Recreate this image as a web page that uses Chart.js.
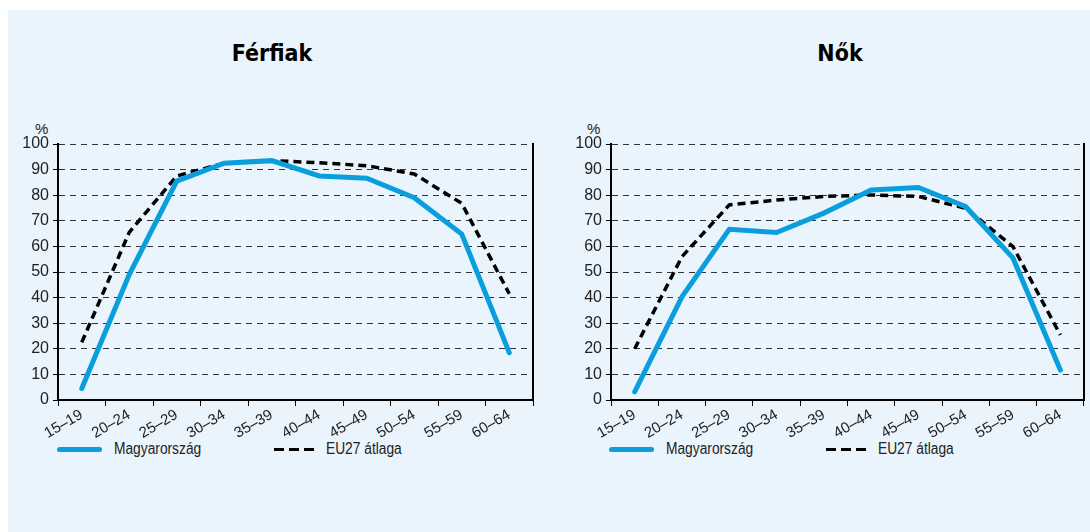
<!DOCTYPE html>
<html>
<head>
<meta charset="utf-8">
<script src="https://cdn.jsdelivr.net/npm/chart.js@4.4.1/dist/chart.umd.min.js"></script>
<style>
  html, body { margin: 0; padding: 0; background: #ffffff; }
  #page { position: absolute; left: 8px; top: 10px; width: 1082px; height: 522px; background: #eaf4fc; }
  .box { position: absolute; }
  .title { position: absolute; font-family: "Liberation Sans Narrow", "DejaVu Sans Condensed", "Liberation Sans", sans-serif;
           font-stretch: condensed; font-weight: bold; font-size: 23px; color: #000; text-align: center; width: 200px; }
  .pct { position: absolute; font-family: "Liberation Sans", Arial, sans-serif; font-size: 15px; color: #222; }
  .leg { position: absolute; font-family: "Liberation Sans", Arial, sans-serif;
         font-size: 16px; color: #222; line-height: 18px; transform: scaleX(0.86); transform-origin: left center; }
  .solid { position: absolute; height: 5px; background: #0a9fdc; border-radius: 3px; }
  .dash { position: absolute; height: 3px; width: 10px; background: #000; }
</style>
</head>
<body>
<div id="page"></div>

<div class="title" style="left:172px; top:40px;">Férfiak</div>
<div class="title" style="left:740px; top:40px;">Nők</div>

<div class="pct" style="left:35px; top:120px;">%</div>
<div class="pct" style="left:587px; top:120px;">%</div>

<div class="box" style="left:0px; top:120px; width:545px; height:320px;"><canvas id="men"></canvas></div>
<div class="box" style="left:545px; top:120px; width:545px; height:320px;"><canvas id="women"></canvas></div>

<!-- legends -->
<div class="solid" style="left:57px; top:447px; width:45px;"></div>
<div class="leg" style="left:114px; top:440px;">Magyarország</div>
<div class="dash" style="left:274px; top:448px;"></div>
<div class="dash" style="left:289px; top:448px;"></div>
<div class="dash" style="left:304px; top:448px;"></div>
<div class="leg" style="left:326px; top:440px;">EU27 átlaga</div>

<div class="solid" style="left:609px; top:447px; width:45px;"></div>
<div class="leg" style="left:666px; top:440px;">Magyarország</div>
<div class="dash" style="left:826px; top:448px;"></div>
<div class="dash" style="left:841px; top:448px;"></div>
<div class="dash" style="left:856px; top:448px;"></div>
<div class="leg" style="left:878px; top:440px;">EU27 átlaga</div>

<script>
// Age groups
const ageGroups = ['15–19', '20–24', '25–29', '30–34', '35–39', '40–44', '45–49', '50–54', '55–59', '60–64'];

// Férfiak (men)
const menHungary = [4.5, 49, 85.5, 92.5, 93.5, 87.5, 86.6, 79, 64.8, 18.5];
const menEU27 = [22.5, 65.5, 87.5, 92.5, 93.5, 92.7, 91.5, 88.3, 76.8, 41.5];

// Nők (women)
const womenHungary = [3.2, 40.3, 66.7, 65.4, 73, 82, 83, 75.5, 55.4, 11.7];
const womenEU27 = [20, 56, 76.2, 78.1, 79.5, 80.1, 79.5, 74.9, 59.9, 25.4];

const xFont = { family: 'Liberation Sans', size: 15 };
const yFont = { family: 'Liberation Sans', size: 16 };

// Function to build one panel
function makeChart(id, hungary, eu27, yWidth, padRight) {
    const ctx = document.getElementById(id).getContext('2d');
    return new Chart(ctx, {
        type: 'line',
        data: {
            labels: ageGroups,
            datasets: [{
                label: 'Magyarország',
                data: hungary,
                borderColor: '#0a9fdc',
                borderWidth: 5,
                pointRadius: 0,
                borderCapStyle: 'round',
                borderJoinStyle: 'miter',
                tension: 0
            }, {
                label: 'EU27 átlaga',
                data: eu27,
                borderColor: '#000000',
                borderWidth: 3.5,
                borderDash: [8, 5],
                pointRadius: 0,
                tension: 0
            }]
        },
        options: {
            responsive: true,
            maintainAspectRatio: false,
            animation: false,
            layout: { padding: { left: 0, right: padRight, top: 24, bottom: 0 } },
            scales: {
                x: {
                    offset: true,
                    grid: {
                        offset: true,
                        drawOnChartArea: false,
                        drawTicks: true,
                        tickLength: 6,
                        color: '#000'
                    },
                    border: { display: true, color: '#000', width: 2 },
                    ticks: {
                        autoSkip: false,
                        minRotation: 30,
                        maxRotation: 30,
                        padding: 0,
                        color: '#222',
                        font: xFont
                    },
                    afterFit: function (scale) { scale.height = 40; }
                },
                y: {
                    min: 0,
                    max: 100,
                    ticks: {
                        stepSize: 10,
                        padding: 4,
                        color: '#222',
                        font: yFont
                    },
                    grid: {
                        color: '#333',
                        lineWidth: 1,
                        tickLength: 5,
                        tickColor: '#000'
                    },
                    border: { display: true, color: '#000', width: 2, dash: [6, 5] },
                    afterFit: function (scale) { scale.width = yWidth; }
                },
                y2: {
                    position: 'right',
                    min: 0,
                    max: 100,
                    ticks: { display: false },
                    grid: { display: false },
                    border: { display: true, color: '#000', width: 2 },
                    afterFit: function (scale) { scale.width = 0; }
                }
            },
            plugins: {
                legend: { display: false },
                tooltip: { enabled: false }
            }
        }
    });
}

makeChart('men', menHungary, menEU27, 58, 12);
makeChart('women', womenHungary, womenEU27, 66, 6);
</script>
</body>
</html>
